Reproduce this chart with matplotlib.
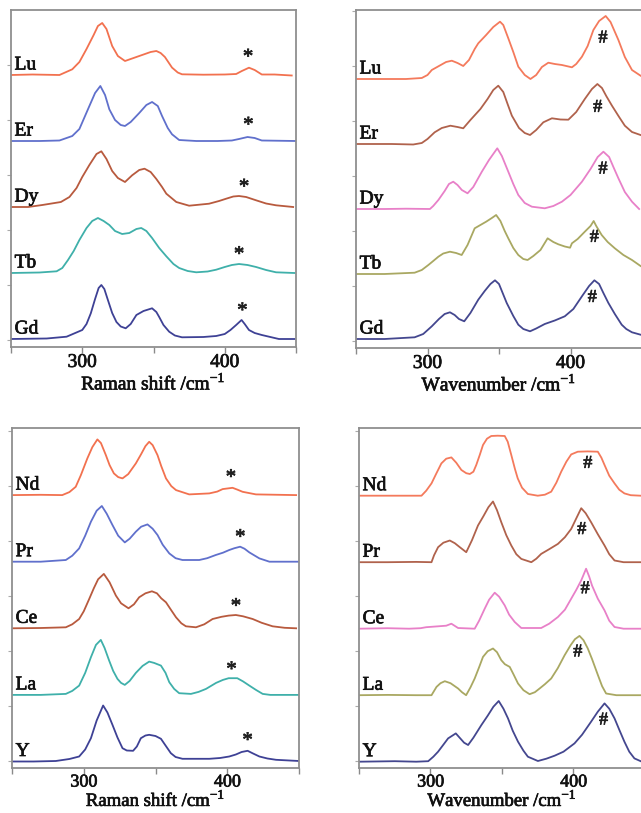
import numpy as np
import matplotlib
matplotlib.use('Agg')
import matplotlib.pyplot as plt
import matplotlib.patheffects as pe

plt.rcParams['font.family'] = ['Liberation Serif', 'DejaVu Serif']
plt.rcParams['mathtext.fontset'] = 'custom'
plt.rcParams['mathtext.rm'] = 'Liberation Serif'

# --- Raman spectra, top group (x: cm-1, y: relative intensity) ---
raman_top_names = ['Lu', 'Er', 'Dy', 'Tb', 'Gd']
raman_top_colors = ['#f2714f', '#6070cc', '#b85a3e', '#3fb0aa', '#3e4195']
raman_top_x = [
    [250, 265, 284, 293, 298, 303, 308, 311, 314, 317, 321, 325, 330, 336, 342, 348, 352, 355, 358, 363, 367, 370, 385, 400, 408, 412, 417, 421, 426, 435, 447],
    [250, 270, 284, 293, 298, 304, 309, 312.7, 316, 319, 323, 327, 330, 334, 340, 345, 349, 353, 356, 360, 363, 368, 380, 395, 405, 410, 416, 421, 426, 450],
    [250, 262, 272, 285, 291, 296, 300, 305, 310, 313.4, 317, 321, 325, 330, 335, 340, 343.7, 348, 352, 356, 359, 366, 375, 389, 396, 401, 406, 410, 415, 422, 429, 436, 448],
    [250, 270, 282, 286, 290, 294, 298, 303, 307, 311, 315, 319, 323, 328, 333, 338, 341.4, 345, 349, 354, 359, 364, 368, 374, 380, 388, 394, 400, 405, 410, 416, 422, 429, 436, 449],
    [250, 275, 289, 300, 303, 306, 309, 311.5, 313.4, 315.5, 318, 321, 324, 327, 330.5, 334, 338, 343, 349, 352, 354, 357, 361, 365, 370, 385, 394, 400, 404, 408, 411.8, 414, 417, 421, 426, 432, 438, 449],
]
raman_top_y = [
    [0, 0.5, 0, 5.7, 13, 26, 40, 49, 52, 46, 29, 19, 14, 17, 20, 23, 24, 22, 18, 7.4, 2.5, 0.7, 0.3, 0.5, 1, 4, 7.3, 5, 0.5, 0.5, -0.5],
    [0, 0, 0.5, 5, 12, 31.7, 48, 55, 46, 31.7, 21, 16, 15, 19, 28, 36, 39, 35, 25, 13, 6.7, 1, 0, 0, 0.5, 2, 4, 3, 0.5, 0],
    [0, 0, 2, 5, 10, 19, 30, 42, 53, 55.7, 48, 36, 29, 25, 31.7, 37, 38.3, 35, 28, 20, 13.3, 5, 1.3, 3.3, 6, 8.3, 10.5, 11, 10, 6.7, 3.5, 1.7, 0],
    [0, 0.5, 1.7, 5, 13, 22, 33, 45, 52, 55, 52, 48, 42, 39, 40, 44, 45, 42, 35, 25, 16.7, 9, 5, 2, 0.7, 1.5, 3.3, 6, 8, 9, 8, 6, 3, 0.7, 0],
    [0, 0.5, 2.3, 9, 15, 25.7, 40, 51, 54, 50, 39, 26, 17, 12.5, 10.7, 15, 24, 28, 30.7, 27, 22, 14, 7.3, 3.5, 1.7, 2, 3, 5, 9, 14, 19, 15, 9, 6, 4, 2, 0, 0],
]
raman_top_star_x = [416.4, 416.6, 413.6, 410.1, 412.4]
raman_top_star_y = [17, 15, 19, 17.6, 27.3]

# --- IR spectra, top group ---
ir_top_names = ['Lu', 'Er', 'Dy', 'Tb', 'Gd']
ir_top_colors = ['#f47a5c', '#b0624c', '#e880c8', '#a9a862', '#44478f']
ir_top_x = [
    [250, 270, 285, 296, 300, 303, 308, 313, 317, 321, 325, 329, 333, 335.5, 341, 346, 350.7, 353, 356.5, 360, 363.5, 368, 372, 376, 380, 384.5, 389, 394, 401, 404, 408, 412, 416, 420, 424.6, 428, 433.5, 438, 443, 449],
    [250, 275, 290, 296, 300, 305, 310, 316, 321, 325, 330, 337, 342, 346, 349.5, 353, 356, 359, 364, 368, 371.7, 376, 381, 387, 393, 398.5, 404, 410, 415, 418.8, 422, 425, 429, 434, 438, 443, 449],
    [250, 270, 285, 301.7, 304, 307.6, 312, 315, 318, 321, 324, 328, 332, 338, 343, 348.8, 352, 356.5, 360, 363.5, 368, 373, 382, 388, 394, 400, 408, 414, 419, 423, 427, 430, 433.5, 438, 443, 448],
    [250, 270, 291, 296, 300.6, 304, 307.6, 311, 315.7, 320, 323.9, 328, 333, 337, 341, 345, 348, 351, 354, 356.5, 360, 363.5, 367, 370, 374, 379, 384, 388, 391.5, 396, 399.7, 401, 405, 410, 414, 416.2, 418, 421.8, 426, 431, 437, 443, 449],
    [250, 270, 291, 297, 303, 308, 312, 315.7, 319, 322, 325.7, 330, 335.5, 340, 344, 347.2, 350, 355.4, 360, 363.5, 367, 371.7, 376, 382, 389, 396, 402, 408, 413, 416.7, 420, 423, 426.5, 431, 435.8, 439, 443, 449],
]
ir_top_y = [
    [0, 0, 0, 1, 4, 9, 13, 17, 18.3, 16, 13, 19, 30, 35.7, 44, 52, 57.3, 54, 40.7, 27, 12.3, 4, 0, 4, 12, 16.3, 15, 14, 11.7, 15, 22.3, 33, 49, 58, 63, 57, 39, 22, 9, 3.3],
    [0, 0, -0.5, 1, 5, 11.7, 16, 18.3, 17, 15.7, 24, 35, 45, 54, 58.3, 52, 40, 28.3, 16, 11, 9, 14, 21.7, 25.7, 24.5, 24.3, 32, 45, 55, 60, 56, 48, 38.3, 27, 18.3, 12, 9],
    [0, 0, 0.3, 0, 3, 9, 18, 25, 27.3, 24, 19, 15.7, 22, 37.3, 49, 60.7, 53, 37.3, 25, 14, 6, 2.3, 0.7, 3, 7.3, 14, 27.3, 40, 52, 57.3, 52, 42, 30.7, 17, 7.3, 0],
    [0, 0, 1.3, 4, 9, 13, 17.3, 20.5, 22.3, 21, 19, 29, 45.7, 49, 52.3, 56, 59, 53, 43, 35.7, 26, 19, 15, 14, 18, 24, 35.7, 32, 29.7, 27.5, 26.3, 30.7, 35, 42.3, 48, 53, 48, 39, 32, 25.7, 19, 14, 8],
    [0, 0, 1.7, 5, 12.7, 20, 25, 26.7, 24, 20, 17.7, 26, 39.3, 48, 55, 58.7, 55, 36, 23, 14.3, 10, 7.7, 10.5, 15, 18.5, 22.7, 30, 42.7, 53, 58.7, 55, 46, 36, 25, 14.3, 10, 6.7, 4.3],
]
ir_top_hash_x = [422.7, 419.0, 422.7, 416.6, 415.2]
ir_top_hash_y = [41, 36.7, 40, 36.7, 41.6]

# --- Raman spectra, bottom group ---
raman_bot_names = ['Nd', 'Pr', 'Ce', 'La', 'Y']
raman_bot_colors = ['#f2714f', '#6070cc', '#b85a3e', '#3fb0aa', '#3e4195']
raman_bot_x = [
    [250, 270, 285, 290, 294.4, 298, 302.5, 306, 309.5, 312, 315.4, 318, 321, 324, 327, 331, 336.3, 340, 343, 345.6, 348, 351.4, 354, 357.3, 361, 364.3, 373.5, 387.5, 393, 396.8, 403.7, 407, 410.7, 420, 448],
    [250, 270, 287.5, 292, 296.8, 301, 305, 309, 312.6, 316, 320, 324, 328.6, 332, 336.3, 340, 344.4, 348, 351.4, 355, 359.6, 364, 368.8, 380.5, 386, 392, 397, 401.4, 405, 409, 412, 415.4, 422.4, 429.4, 450],
    [250, 270, 287.5, 292, 296.8, 300, 303.7, 307, 310, 314, 318, 322.4, 326, 331.2, 335, 338.6, 343, 347.5, 351, 354, 357.3, 361, 364.3, 368, 371.2, 378.2, 384, 389.8, 396, 401, 406, 411, 417.7, 424, 431.6, 440, 448],
    [250, 270, 287.5, 292, 296.8, 301, 305, 308.5, 311.9, 314.5, 317.7, 320.5, 323.5, 326, 328.6, 332, 336.3, 341, 345.6, 349, 353.8, 357, 359.6, 363, 366.5, 374.7, 380, 385.2, 392.2, 397, 401, 407, 411, 415.4, 420, 424.7, 430, 450],
    [250, 265, 280.5, 290, 296.8, 301, 305, 309, 313.5, 316.5, 320, 323.5, 327, 330, 334.4, 337, 339.8, 343, 345.6, 350, 353.8, 357, 360.7, 364, 368.8, 387.5, 395, 401.4, 406, 410, 414.2, 418, 422.4, 428, 434, 450],
]
raman_bot_y = [
    [0, 0.3, 0, 3, 8.3, 20, 36.7, 48, 55.7, 52, 40, 30, 21.7, 18, 16.7, 21, 31.7, 41, 49, 53.3, 50, 40, 29, 16.7, 9, 5, 0.7, 1.7, 3.5, 6, 7.3, 5.5, 3.3, 0.7, 0],
    [0, 0, 1.7, 6, 13.3, 26, 40, 51, 55.7, 48, 36.7, 26, 19.3, 23, 30, 35, 37.3, 33, 26.7, 17, 8.3, 3.5, 1.7, 1.7, 3.5, 6.7, 9, 11.7, 13.5, 15, 13, 9.3, 3.3, 0, 0],
    [0, 0.3, 1, 4, 9.3, 17, 29, 40, 49, 54.4, 46, 32.7, 25, 20, 24, 31, 35, 37, 35, 30, 26, 18, 11, 5, 2, 1, 4, 9.3, 11.5, 12.7, 13.3, 12, 9.3, 5.5, 2, 0.5, 0],
    [0, 0, 1, 4, 9.3, 22, 37.7, 50, 55, 47, 34.3, 24, 16, 12, 10, 14, 22, 29, 33.3, 32, 29.3, 22, 12.7, 6, 1.7, 1, 3, 6, 12, 15, 16.7, 16.7, 13.5, 9.3, 5, 1, 0, 0],
    [0, 0, 0.5, 2.5, 5, 12, 23.3, 41, 56, 49, 36.7, 24, 13.3, 11, 10.7, 15, 23.3, 26, 26.7, 25.5, 22.7, 16, 8.3, 4.5, 2.7, 2.7, 3.5, 5, 7, 9.5, 10.7, 8, 5, 3, 1.7, 0.5],
]
raman_bot_star_x = [402.6, 409.1, 406.1, 403.0, 414.2]
raman_bot_star_y = [16.7, 23.4, 21, 24.3, 20]

# --- IR spectra, bottom group ---
ir_bot_names = ['Nd', 'Pr', 'Ce', 'La', 'Y']
ir_bot_colors = ['#f47a5c', '#b0624c', '#e880c8', '#a9a862', '#44478f']
ir_bot_x = [
    [250, 270, 285, 293.7, 297, 300.7, 304, 307.6, 311, 314.6, 318, 321.6, 325, 327.5, 330, 332, 334.5, 336.7, 339.5, 342.5, 347, 351.9, 354, 356.5, 359, 361, 364, 368.1, 375, 380, 384.4, 388, 391.4, 395, 398.4, 403, 410, 417, 419.5, 421.7, 425, 428.7, 432, 435.6, 440, 447],
    [250, 270, 290, 300.7, 302.5, 305.3, 309, 313.5, 317, 320.5, 325, 329, 333.2, 337, 340.5, 343.7, 346.5, 349.5, 353, 356.5, 360, 363.5, 370.5, 374, 377.4, 383, 389.1, 394, 398.4, 402, 405.4, 408.5, 412.3, 417, 421.7, 425, 428.7, 435, 447],
    [250, 270, 285, 293, 297, 311, 314.6, 319.3, 330.9, 334, 337.9, 341, 344.9, 348, 351.9, 355, 358.9, 363.5, 377.4, 383, 389.1, 394, 398.4, 402, 405.4, 408.8, 411, 413, 417, 421.7, 425, 428.7, 435, 447],
    [250, 270, 290, 300.7, 304.2, 307, 310, 314, 319.3, 322, 324.9, 328, 330.9, 334, 336.7, 340, 343.7, 346.5, 349.5, 352, 355.4, 358, 361.2, 365, 369.3, 373, 376.3, 380, 384.4, 389, 393.8, 398, 401, 404.2, 407, 410, 413, 417.1, 420, 422.8, 430, 447],
    [250, 275, 290, 298.4, 302, 305.3, 309, 312.3, 317.7, 321, 323.5, 326.3, 330, 335.6, 340, 344, 347.7, 351, 354.2, 357.5, 361.2, 365, 368.1, 375.1, 381, 386.8, 393, 400.7, 406, 412.3, 417, 421.7, 425, 428.7, 432, 435.6, 439, 442.6, 447],
]
ir_bot_y = [
    [0, 0, 0, 0, 5, 12.3, 22, 32.3, 37, 38.3, 33, 25.7, 22.5, 21.7, 24, 30.7, 41, 50.7, 57, 59.7, 60, 59.7, 54, 40.7, 27, 17.3, 8, 1.7, 0, 1, 4, 13, 24, 34, 41.3, 44, 44.3, 44, 38, 30.7, 20, 12.3, 6, 2.3, 0.5, 0],
    [0, 0, 0.3, 0, 7, 15, 19.5, 21.7, 19, 15, 10, 22, 36.7, 46, 55, 60.7, 52, 40, 27, 16.7, 8, 3.3, 0, 3.5, 8.3, 13, 18.3, 25, 33.3, 44, 54, 49, 40, 28, 16.7, 8, 1.7, 0, 0],
    [0, 0.5, 0, 0.5, 1.5, 3, 5, 0.7, 0, 8, 20, 29, 36, 32, 23.3, 14, 6.7, 0.7, 0.7, 5, 11.7, 19, 30, 39, 48.3, 60, 52, 43, 30, 18.3, 8, 1.7, 0, 0],
    [0, 0.3, 0, 0, 8.3, 12, 14, 12, 6.7, 3, 0, 8, 16.7, 28, 38.3, 44, 46.7, 43, 35, 31, 28.3, 21, 11.7, 5, 1, 3, 6.7, 11, 16.7, 27, 40, 50, 56, 59.3, 55, 46.7, 36, 20, 9, 1.7, 0, 0],
    [0, 0.5, 0, 0.5, 5, 10, 17, 23.3, 28.3, 23, 19, 16.7, 24, 36.7, 46, 55, 60.7, 53, 43.3, 31, 20, 11, 5, 0.7, 3, 6, 10, 18.3, 27, 40, 50, 58.3, 53, 43.3, 32, 20, 10, 3.3, 0.5],
]
ir_bot_hash_x = [410.0, 405.8, 408.1, 403.0, 421.0]
ir_bot_hash_y = [32.4, 32.7, 40, 43.3, 41.7]

W, H = 641, 813
fig = plt.figure(figsize=(W / 100, H / 100), dpi=100)
heavy = [pe.withStroke(linewidth=0.5, foreground='#111111')]


def make_axes(left, top, right, bottom):
    return fig.add_axes([left / W, 1 - bottom / H, (right - left) / W, (bottom - top) / H])


def draw_panel(ax, names, colors, xs, ys, mark, mark_x, mark_y, xlabel, step, base, ytop,
               tick_size, tick_pad, label_size, label_pad):
    for i, (name, c) in enumerate(zip(names, colors)):
        off = base + step * (len(names) - 1 - i)
        ax.plot(xs[i], np.array(ys[i]) + off, color=c, lw=1.3, solid_joinstyle='round')
        ax.text(252.5, off + 10, name, fontsize=14, va='center', ha='left',
                color='#111111', path_effects=heavy)
        msize = 15 if mark == '*' else 13
        ax.text(mark_x[i], off + mark_y[i], mark, fontsize=msize, ha='center', va='center',
                color='#222222', path_effects=heavy)
    ax.set_xlim(250, 450)
    ax.set_ylim(0, ytop)
    ax.set_xticks([250, 300, 350, 400, 450])
    ax.set_xticklabels(['', '300', '', '400', ''])
    ax.set_yticks(np.arange(7, ytop, 55))
    ax.set_yticklabels([])
    ax.tick_params(axis='x', direction='out', length=4, width=1, color='#8a8a8a',
                   labelsize=tick_size, pad=tick_pad)
    ax.tick_params(axis='y', direction='out', length=3, width=0.8, color='#aaaaaa')
    for lbl in ax.get_xticklabels():
        lbl.set_path_effects(heavy)
        lbl.set_color('#111111')
    for s in ax.spines.values():
        s.set_color('#8f8f8f')
        s.set_linewidth(1.3)
    ax.set_xlabel(xlabel, fontsize=label_size, labelpad=label_pad, color='#111111')
    ax.xaxis.label.set_path_effects(heavy)


raman_label = r'Raman shift /cm$^{\mathregular{-1}}$'
ir_label = r'Wavenumber /cm$^{\mathregular{-1}}$'

ax1 = make_axes(11, 10, 296, 347)
draw_panel(ax1, raman_top_names, raman_top_colors, raman_top_x, raman_top_y,
           '*', raman_top_star_x, raman_top_star_y, raman_label, 66, 8, 337, 14, 1, 14, 0)

ax2 = make_axes(356, 10, 642, 348)
draw_panel(ax2, ir_top_names, ir_top_colors, ir_top_x, ir_top_y,
           '#', ir_top_hash_x, ir_top_hash_y, ir_label, 65, 9, 338, 14, 1, 14, 0)

ax3 = make_axes(12, 428, 299, 768)
draw_panel(ax3, raman_bot_names, raman_bot_colors, raman_bot_x, raman_bot_y,
           '*', raman_bot_star_x, raman_bot_star_y, raman_label, 66.6, 6.5, 340, 13, 0, 13.5, -1)

ax4 = make_axes(359, 428, 645, 768)
draw_panel(ax4, ir_bot_names, ir_bot_colors, ir_bot_x, ir_bot_y,
           '#', ir_bot_hash_x, ir_bot_hash_y, ir_label, 66.5, 6.3, 340, 13, 0, 13.5, -1)

fig.savefig('out.png', dpi=100)
